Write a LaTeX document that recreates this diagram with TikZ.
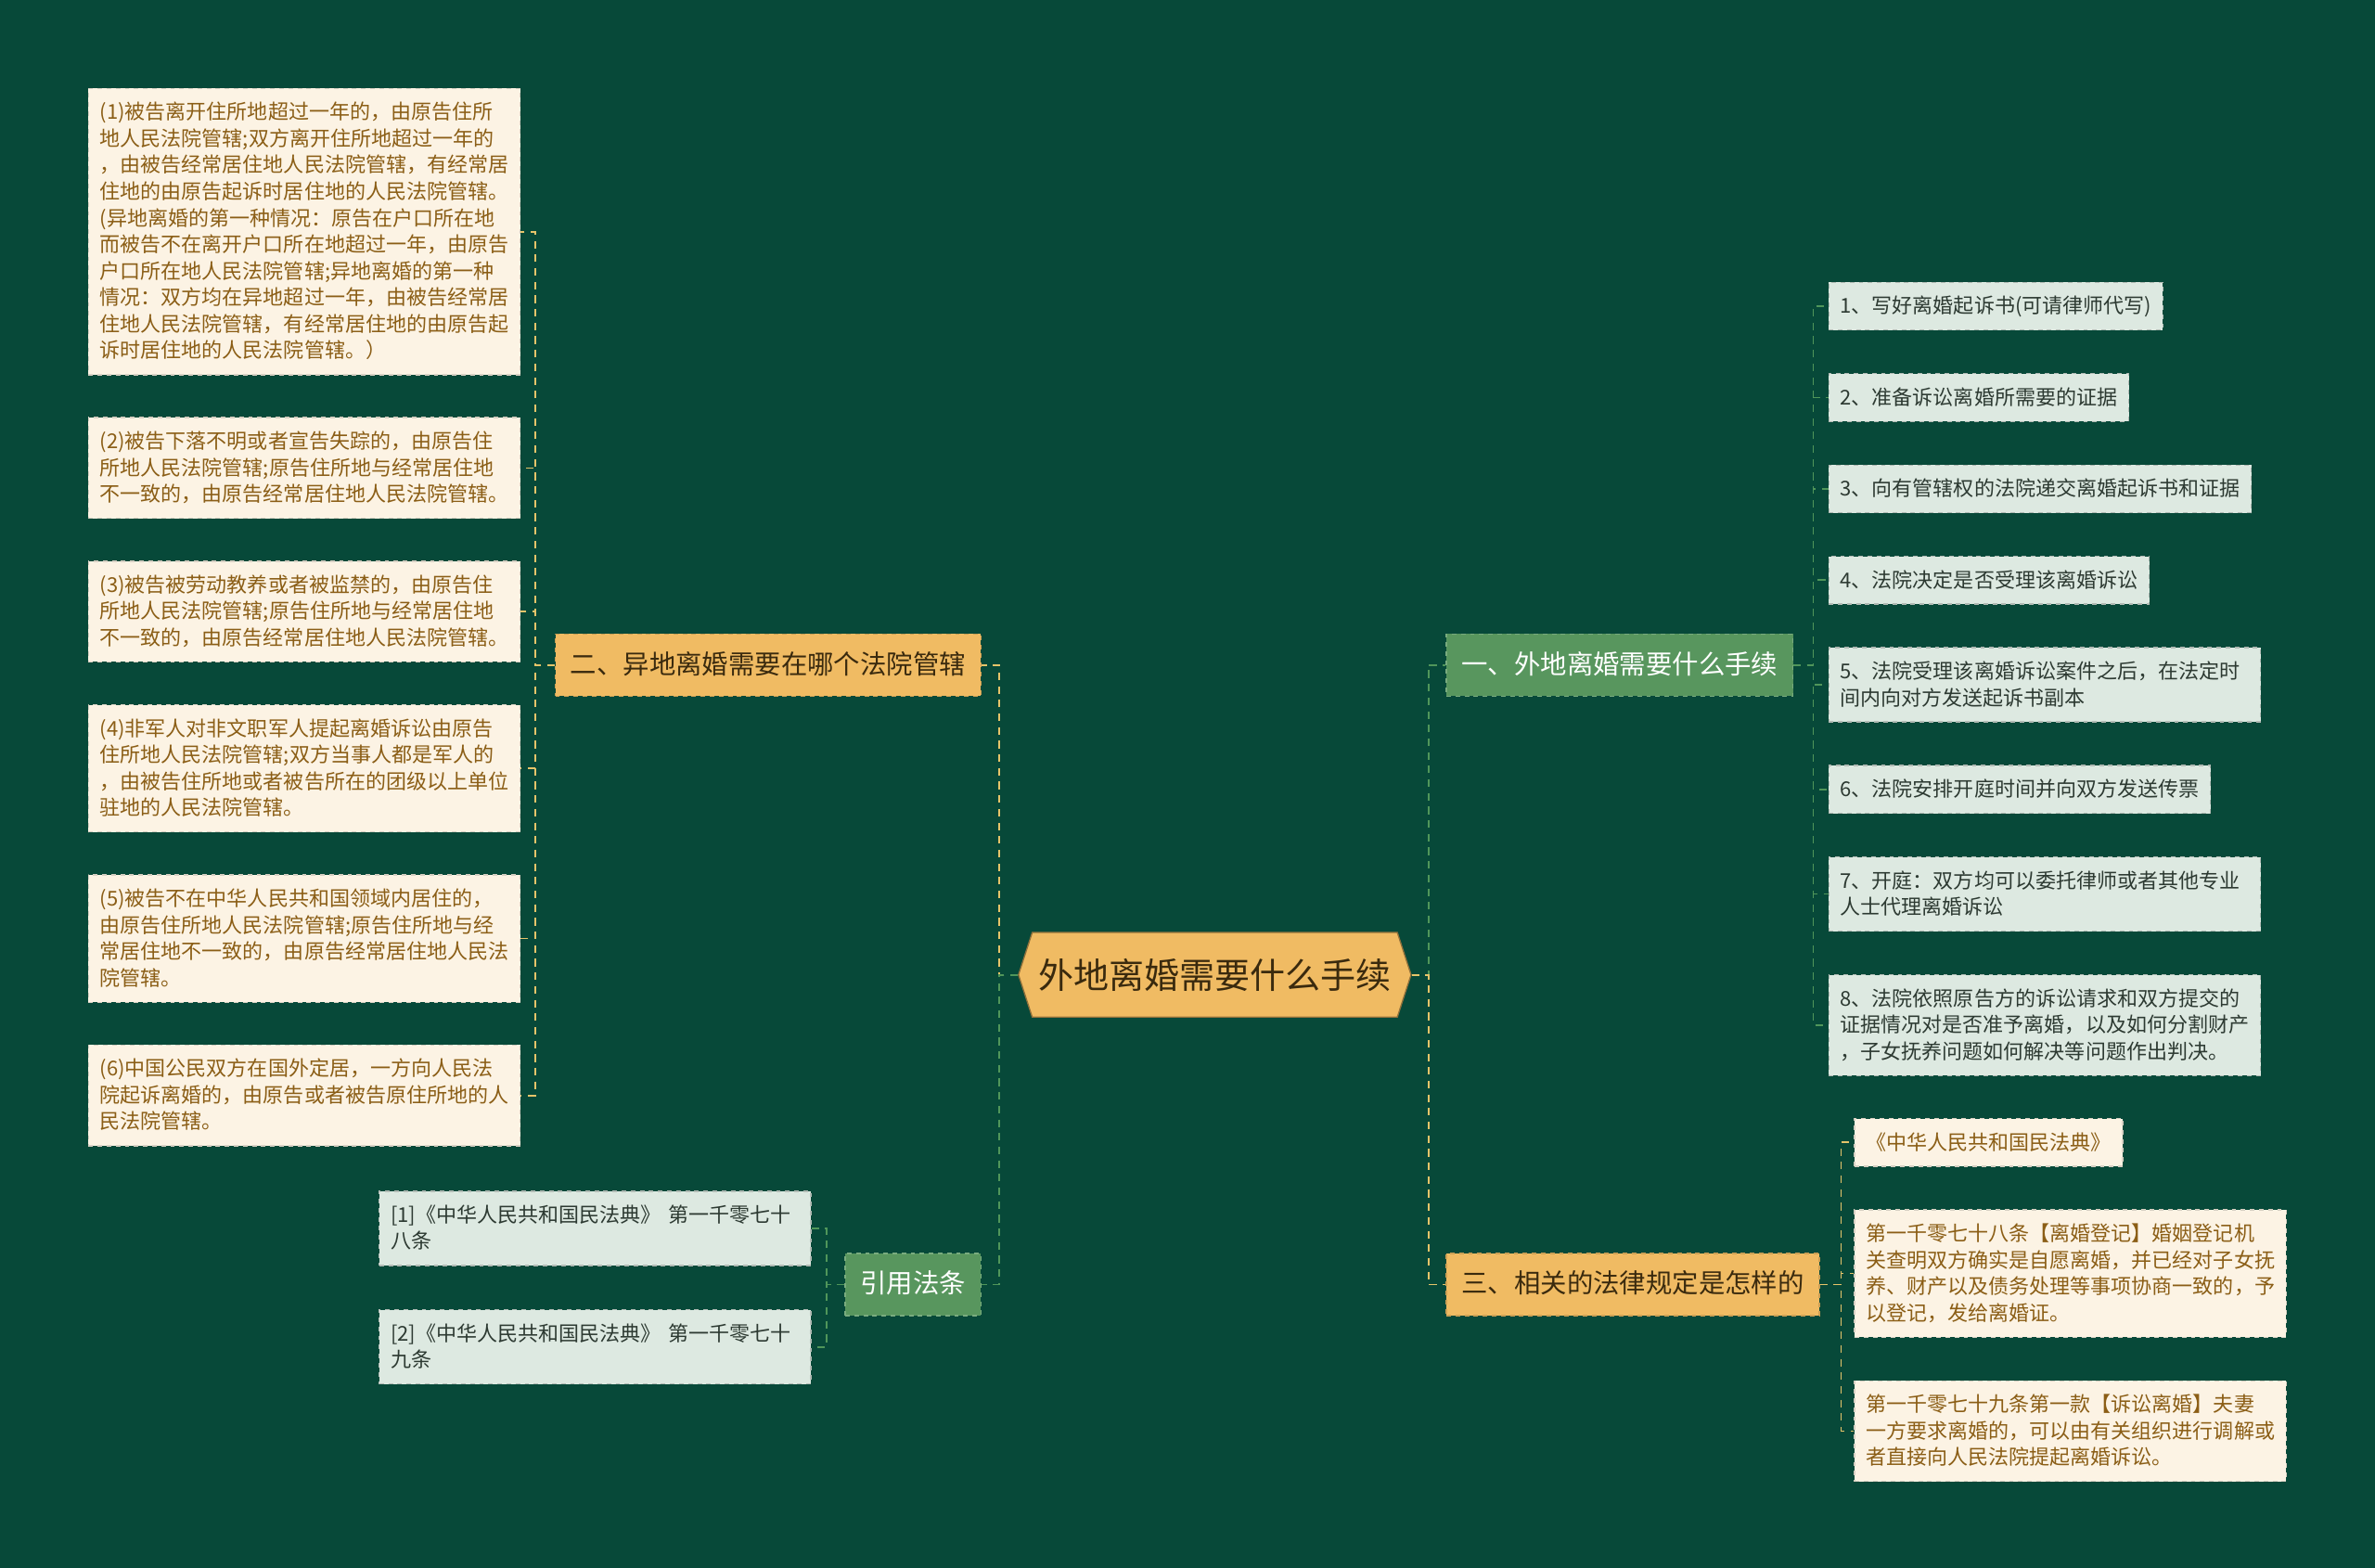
\documentclass[tikz,border=0pt]{standalone}
\usepackage{fontspec}
\setmainfont{Noto Sans CJK SC}
\usetikzlibrary{positioning,shapes.symbols}
\definecolor{boardgreen}{RGB}{7,73,57}
\definecolor{leafcream}{RGB}{252,243,228}
\definecolor{leafbrown}{RGB}{139,94,22}
\definecolor{leafmint}{RGB}{221,233,225}
\definecolor{minttext}{RGB}{45,58,50}
\definecolor{branchgreen}{RGB}{88,150,94}
\definecolor{branchorange}{RGB}{240,187,99}
\definecolor{branchtext}{RGB}{58,42,14}
\definecolor{linkgreen}{RGB}{80,150,90}
\definecolor{linkyellow}{RGB}{230,196,106}

\begin{document}
\begin{tikzpicture}[x=1pt,y=-1pt,
    leaf/.style={rectangle,dashed,line width=0.8pt,inner xsep=7.5pt,inner ysep=9pt,
      text height=11.5pt,text depth=2pt,align=left,
      font=\fontsize{13.5pt}{17.5pt}\selectfont},
    creamleaf/.style={leaf,fill=leafcream,draw=leafcream!85!black,text=leafbrown},
    mintleaf/.style={leaf,fill=leafmint,draw=leafmint!80!black,text=minttext},
    wide/.style={text width=270pt},
    twolines/.style={text depth=19.5pt},
    threelines/.style={text depth=37pt},
    fourlines/.style={text depth=54.5pt},
    tenlines/.style={text depth=159.5pt},
    branch/.style={rectangle,dashed,line width=0.8pt,inner xsep=10pt,inner ysep=11.8pt,
      text height=14.5pt,text depth=2.9pt,font=\fontsize{17.4pt}{20pt}\selectfont},
    greenbranch/.style={branch,fill=branchgreen,draw=branchgreen!80!white,text=white},
    orangebranch/.style={branch,fill=branchorange,draw=branchorange!85!black,text=branchtext},
    hexa/.style={shape=signal,signal to=east and west,signal pointer angle=144,
      fill=branchorange,draw=branchorange!60!black,line width=0.8pt,text=branchtext,
      inner xsep=4pt,minimum height=56pt,font=\fontsize{23.3pt}{26pt}\selectfont},
    glink/.style={draw=linkgreen,dash pattern=on 5pt off 4pt,line width=1.1pt},
    ylink/.style={draw=linkyellow,dash pattern=on 5pt off 4pt,line width=1.1pt}]
    \fill[boardgreen] (0,0) rectangle (1568,1035);
    \useasboundingbox (0,0) rectangle (1568,1035);

    \node[hexa] (root) at (802,643.5) {外地离婚需要什么手续};

    \node[greenbranch,anchor=west] (b1) at (954.5,439) {一、外地离婚需要什么手续};
    \node[orangebranch,anchor=east] (b2) at (648,439) {二、异地离婚需要在哪个法院管辖};
    \node[orangebranch,anchor=west] (b3) at (954.5,848) {三、相关的法律规定是怎样的};
    \node[greenbranch,anchor=east] (b4) at (648,848) {引用法条};

    \node[mintleaf,anchor=north west] (r1) at (1207,186) {1、写好离婚起诉书(可请律师代写)};
    \node[mintleaf,below right=28pt and 0pt of r1.south west] (r2) {2、准备诉讼离婚所需要的证据};
    \node[mintleaf,below right=28pt and 0pt of r2.south west] (r3) {3、向有管辖权的法院递交离婚起诉书和证据};
    \node[mintleaf,below right=28pt and 0pt of r3.south west] (r4) {4、法院决定是否受理该离婚诉讼};
    \node[mintleaf,wide,twolines,below right=28pt and 0pt of r4.south west] (r5) {5、法院受理该离婚诉讼案件之后，在法定时\\间内向对方发送起诉书副本};
    \node[mintleaf,below right=28pt and 0pt of r5.south west] (r6) {6、法院安排开庭时间并向双方发送传票};
    \node[mintleaf,wide,twolines,below right=28pt and 0pt of r6.south west] (r7) {7、开庭：双方均可以委托律师或者其他专业\\人士代理离婚诉讼};
    \node[mintleaf,wide,threelines,below right=28pt and 0pt of r7.south west] (r8) {8、法院依照原告方的诉讼请求和双方提交的\\证据情况对是否准予离婚，以及如何分割财产\\，子女抚养问题如何解决等问题作出判决。};

    \node[creamleaf,wide,tenlines,anchor=north west] (l1) at (58,58) {(1)被告离开住所地超过一年的，由原告住所\\地人民法院管辖;双方离开住所地超过一年的\\，由被告经常居住地人民法院管辖，有经常居\\住地的由原告起诉时居住地的人民法院管辖。\\(异地离婚的第一种情况：原告在户口所在地\\而被告不在离开户口所在地超过一年，由原告\\户口所在地人民法院管辖;异地离婚的第一种\\情况：双方均在异地超过一年，由被告经常居\\住地人民法院管辖，有经常居住地的由原告起\\诉时居住地的人民法院管辖。）};
    \node[creamleaf,wide,threelines,below right=27.5pt and 0pt of l1.south west] (l2) {(2)被告下落不明或者宣告失踪的，由原告住\\所地人民法院管辖;原告住所地与经常居住地\\不一致的，由原告经常居住地人民法院管辖。};
    \node[creamleaf,wide,threelines,below right=27.5pt and 0pt of l2.south west] (l3) {(3)被告被劳动教养或者被监禁的，由原告住\\所地人民法院管辖;原告住所地与经常居住地\\不一致的，由原告经常居住地人民法院管辖。};
    \node[creamleaf,wide,fourlines,below right=27.5pt and 0pt of l3.south west] (l4) {(4)非军人对非文职军人提起离婚诉讼由原告\\住所地人民法院管辖;双方当事人都是军人的\\，由被告住所地或者被告所在的团级以上单位\\驻地的人民法院管辖。};
    \node[creamleaf,wide,fourlines,below right=27.5pt and 0pt of l4.south west] (l5) {(5)被告不在中华人民共和国领域内居住的，\\由原告住所地人民法院管辖;原告住所地与经\\常居住地不一致的，由原告经常居住地人民法\\院管辖。};
    \node[creamleaf,wide,threelines,below right=27.5pt and 0pt of l5.south west] (l6) {(6)中国公民双方在国外定居，一方向人民法\\院起诉离婚的，由原告或者被告原住所地的人\\民法院管辖。};

    \node[creamleaf,anchor=north west] (t1) at (1224,738) {《中华人民共和国民法典》};
    \node[creamleaf,wide,fourlines,below right=28pt and 0pt of t1.south west] (t2) {第一千零七十八条【离婚登记】婚姻登记机\\关查明双方确实是自愿离婚，并已经对子女抚\\养、财产以及债务处理等事项协商一致的，予\\以登记，发给离婚证。};
    \node[creamleaf,wide,threelines,below right=28pt and 0pt of t2.south west] (t3) {第一千零七十九条第一款【诉讼离婚】夫妻\\一方要求离婚的，可以由有关组织进行调解或\\者直接向人民法院提起离婚诉讼。};

    \node[mintleaf,wide,twolines,anchor=north west] (c1) at (250,786) {[1]《中华人民共和国民法典》 第一千零七十\\八条};
    \node[mintleaf,wide,twolines,below right=28.5pt and 0pt of c1.south west] (c2) {[2]《中华人民共和国民法典》 第一千零七十\\九条};

    \draw[glink] (root.east) -- ++(11pt,0) |- (b1.west);
    \draw[ylink] (root.east) -- ++(11pt,0) |- (b3.west);
    \draw[ylink] (root.west) -- ++(-12.5pt,0) |- (b2.east);
    \draw[glink] (root.west) -- ++(-12.5pt,0) |- (b4.east);
    \foreach \i in {1,...,8}
        \draw[glink] (b1.east) -- ++(13pt,0) |- (r\i.west);
    \foreach \i in {1,...,6}
        \draw[ylink] (b2.west) -- ++(-13pt,0) |- (l\i.east);
    \foreach \i in {1,2,3}
        \draw[ylink] (b3.east) -- ++(14pt,0) |- (t\i.west);
    \foreach \i in {1,2}
        \draw[glink] (b4.west) -- ++(-12pt,0) |- (c\i.east);
\end{tikzpicture}
\end{document}
